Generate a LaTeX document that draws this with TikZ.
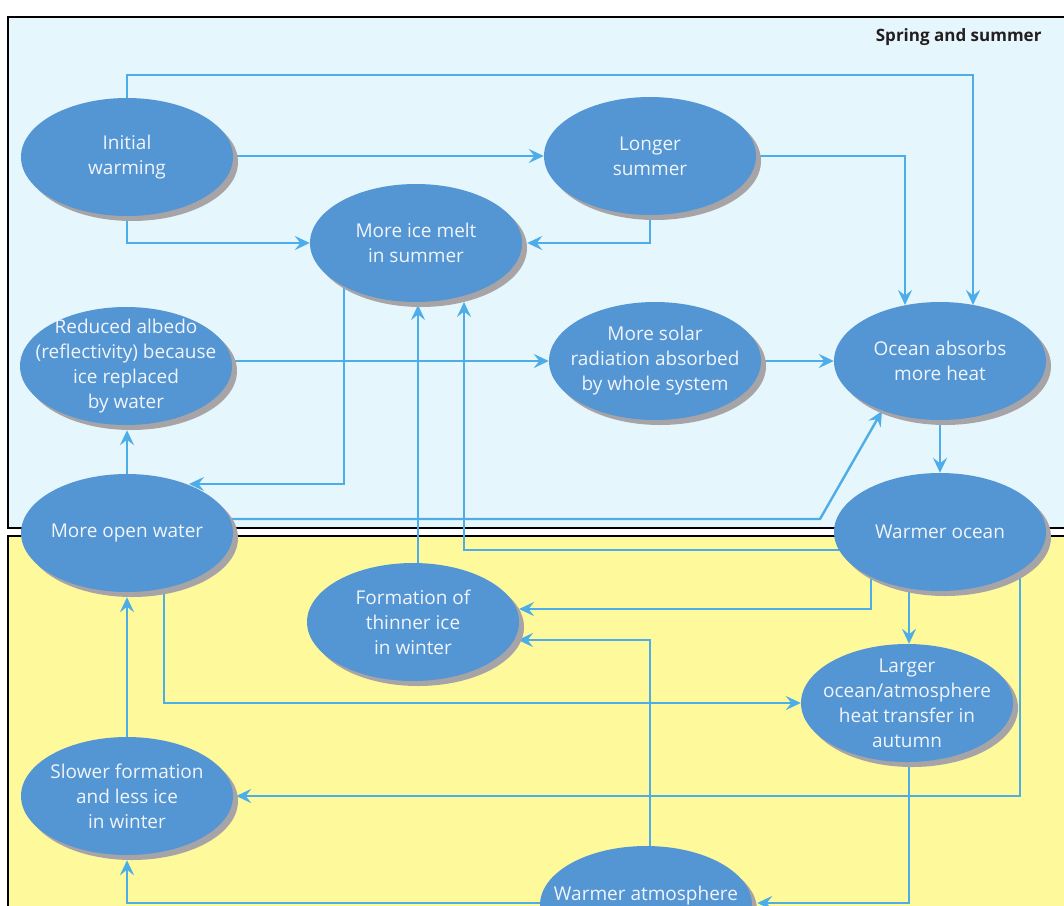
\documentclass[tikz,border=0pt]{standalone}
\usepackage{fontspec}
\setmainfont{Open Sans}
\usetikzlibrary{shapes.geometric,arrows.meta,calc,shadows}
\definecolor{topbg}{HTML}{E6F6FD}
\definecolor{botbg}{HTML}{FEF99A}
\definecolor{nodeblue}{HTML}{5495D3}
\definecolor{shadowgray}{HTML}{A6A4A7}
\definecolor{linkblue}{HTML}{4DADE8}
\definecolor{textwhite}{HTML}{F0F5FB}
\definecolor{titlegray}{HTML}{231F20}
\pgfdeclarelayer{panels}
\pgfdeclarelayer{edges}
\pgfsetlayers{panels,edges,main}
\tikzset{
  blob/.style={ellipse, fill=nodeblue, minimum width=212pt, minimum height=118pt,
    inner xsep=-45pt, inner ysep=-35pt, text=textwhite, align=center,
    font=\fontsize{19}{25}\selectfont,
    drop shadow={shadow xshift=5pt, shadow yshift=-5pt, fill=shadowgray, opacity=1}},
  link/.style={draw=linkblue, line width=2.4pt, -{Stealth[length=15pt,width=14pt,inset=5.5pt]}},
  panelbox/.style={draw=black, line width=2pt}
}
\begin{document}
\begin{tikzpicture}[x=1pt,y=-1pt]
\path[use as bounding box] (0,0) rectangle (1064,905);
\begin{scope}
\clip (0,0) rectangle (1064,905);
\node[blob] (iw) at (127,157) {Initial\\warming};
\node[blob] (ls) at (650,156) {Longer\\summer};
\node[blob] (mi) at (416,243) {More ice melt\\in summer};
\node[blob] (ra) at (126,366) {Reduced albedo\\(reflectivity) because\\ice replaced\\by water};
\node[blob] (ms) at (655,361) {More solar\\radiation absorbed\\by whole system};
\node[blob] (oa) at (940,361) {Ocean absorbs\\more heat};
\node[blob] (ow) at (127,533) {More open water};
\node[blob] (wo) at (940,532) {Warmer ocean};
\node[blob] (ft) at (413,622) {Formation of\\thinner ice\\in winter};
\node[blob] (lt) at (907,703) {Larger\\ocean/atmosphere\\heat transfer in\\autumn};
\node[blob] (sf) at (127,796) {Slower formation\\and less ice\\in winter};
\node[blob] (wa) at (646,905) {\raisebox{24pt}{Warmer atmosphere}};
\node[anchor=east, font=\bfseries\fontsize{17}{20}\selectfont, text=titlegray] (title) at (1045,37) {Spring and summer};
\end{scope}

\begin{pgfonlayer}{panels}
\begin{scope}
\clip (0,0) rectangle (1064,905);
\path[panelbox, fill=topbg] (8,17) rectangle (1070,528);
\path[panelbox, fill=botbg] (8,536) rectangle (1070,912);
\end{scope}
\end{pgfonlayer}

\begin{pgfonlayer}{edges}
% initial warming
\draw[link] (iw.north) |- ($(iw.center)+(0,-82)$) -| ($(oa.center)+(33,-56)$);
\draw[link] (iw.east |- ls.west) -- (ls.west);
\draw[link] (iw.south) |- (mi.west);
% longer summer
\draw[link] (ls.south) |- ($(mi.east)+(5,0)$);
\draw[link] (ls.east) -| ($(oa.center)+(-35,-56)$);
% more ice melt -> open water
\draw[link] ($(mi.center)+(-72,40)$) |- ($(ow.center)+(62,-49)$);
% reduced albedo -> more solar -> ocean absorbs
\draw[link] (ra.east |- ms.west) -- (ms.west);
\draw[link] (ms.east) -- (oa.west);
\draw[link] (oa.south) -- (wo.north);
% open water
\draw[link] (ow.north) -- ($(ra.south)+(1,5)$);
\draw[link] ($(ow.center)+(100,-14)$) -- ($(ow.center)+(693,-14)$) -- ($(oa.center)+(-58,50)$);
\draw[link] ($(ow.center)+(37,0)$) |- (lt.west);
% warmer ocean
\draw[link] ($(wo.center)+(-100,18)$) -| ($(mi.center)+(48,59)$);
\draw[link] ($(wo.center)+(-69,30)$) |- ($(ft.center)+(106,-13)$);
\draw[link] ($(wo.center)+(-31,0)$) -- ($(lt.north)+(2,0)$);
\draw[link] ($(wo.center)+(80,0)$) |- ($(sf.east)+(3,0)$);
% formation of thinner ice
\draw[link] ($(ft.center)+(5,0)$) -- ($(mi.center)+(2,62)$);
% slower formation
\draw[link] (sf.north) -- ($(ow.south)+(0,5)$);
% warmer atmosphere
\draw[link] ($(wa.center)+(4,0)$) |- ($(ft.center)+(105,18)$);
\draw[link] ($(lt.center)+(2,0)$) |- ($(wa.east)+(5,-2)$);
\draw[link] ($(wa.center)+(0,-2)$) -| ($(sf.south)+(0,5)$);
\end{pgfonlayer}
\end{tikzpicture}
\end{document}
